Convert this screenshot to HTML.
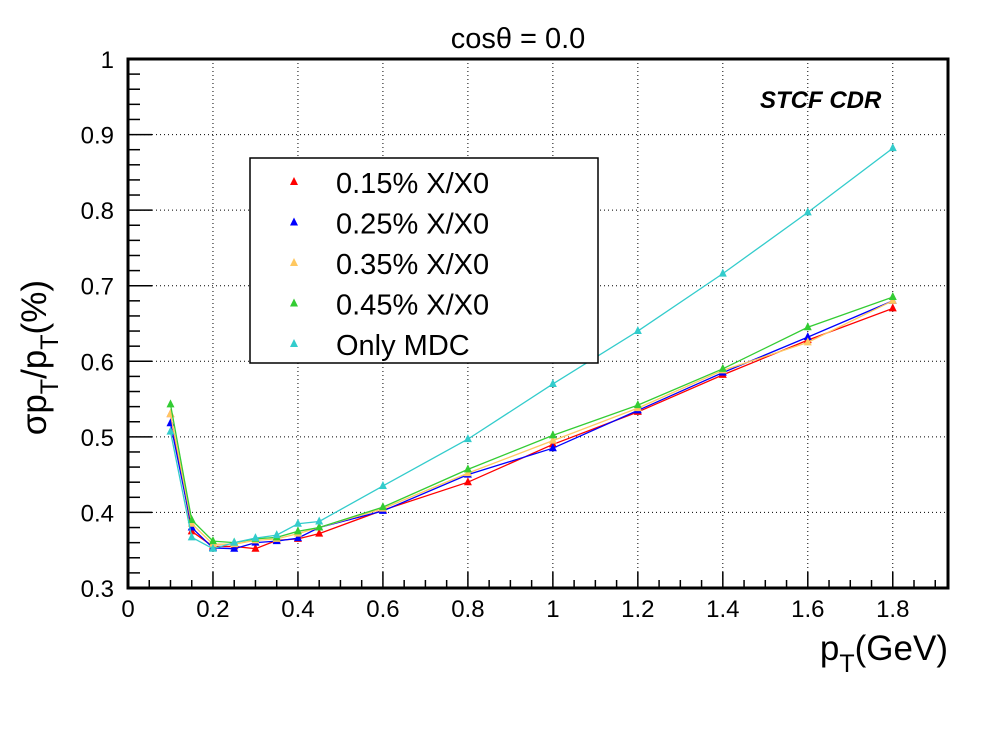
<!DOCTYPE html>
<html><head><meta charset="utf-8"><style>
body{margin:0;background:#fff;}
svg text{font-family:"Liberation Sans",sans-serif;}
</style></head><body>
<svg id="c" width="998" height="726" xmlns="http://www.w3.org/2000/svg"></svg>
<script>
const xVals=[0.1,0.15,0.2,0.25,0.3,0.35,0.4,0.45,0.6,0.8,1.0,1.2,1.4,1.6,1.8];
const seriesNames=["0.15% X/X0","0.25% X/X0","0.35% X/X0","0.45% X/X0","Only MDC"];
const seriesColors=["#ff0000","#0000ff","#ffc860","#33cc33","#33cccc"];
const s015=[0.53,0.375,0.355,0.355,0.352,0.363,0.365,0.372,0.403,0.44,0.49,0.533,0.582,0.628,0.67];
const s025=[0.518,0.38,0.353,0.352,0.36,0.362,0.366,0.38,0.402,0.45,0.485,0.535,0.585,0.632,0.68];
const s035=[0.53,0.385,0.358,0.358,0.363,0.365,0.372,0.38,0.405,0.452,0.495,0.538,0.588,0.625,0.68];
const s045=[0.543,0.39,0.362,0.36,0.365,0.367,0.375,0.38,0.407,0.457,0.502,0.542,0.59,0.645,0.685];
const sMDC=[0.507,0.367,0.352,0.36,0.366,0.37,0.385,0.388,0.435,0.497,0.57,0.64,0.716,0.797,0.882];
const xTicks=["0","0.2","0.4","0.6","0.8","1","1.2","1.4","1.6","1.8"];
const yTicks=["0.3","0.4","0.5","0.6","0.7","0.8","0.9","1"];
const allSeries=[s015,s025,s035,s045,sMDC];

const L=128,R=948,T=59,B=588,XMAX=1.93;
const X=v=>L+v/XMAX*(R-L);
const Y=v=>B-(v-0.3)/0.7*(B-T);
const svg=document.getElementById('c');
const NS="http://www.w3.org/2000/svg";
function mk(tag,attrs,parent){const e=document.createElementNS(NS,tag);for(const k in attrs)e.setAttribute(k,attrs[k]);(parent||svg).appendChild(e);return e;}
xTicks.forEach(t=>{const v=+t;if(v>0){const g=mk('line',{x1:X(v),x2:X(v),y1:T,y2:B,stroke:'#000','stroke-width':1,'stroke-dasharray':'1,3'});

}});
yTicks.forEach(t=>{const v=+t;if(v>0.3&&v<1){const g=mk('line',{x1:L,x2:R,y1:Y(v),y2:Y(v),stroke:'#000','stroke-width':1,'stroke-dasharray':'1,3'});

}});
const fr=mk('rect',{x:L,y:T,width:R-L,height:B-T,fill:'none',stroke:'#000','stroke-width':3});


for(let i=0;i*0.05<=XMAX;i++){const v=i*0.05;const major=i%4==0;mk('line',{x1:X(v),x2:X(v),y1:B,y2:B-(major?16:8),stroke:'#000','stroke-width':1.5});}
xTicks.forEach(t=>{const e=mk('text',{x:X(+t),y:B+29,'font-size':24,'text-anchor':'middle'});e.textContent=t;

});
for(let i=0;i<=35;i++){const v=0.3+i*0.02;const major=i%5==0;mk('line',{x1:L,x2:L+(major?24:12),y1:Y(v),y2:Y(v),stroke:'#000','stroke-width':1.5});}
yTicks.forEach(t=>{const e=mk('text',{x:L-14,y:Y(+t)+9,'font-size':24,'text-anchor':'end'});e.textContent=t;

});
allSeries.forEach((s,si)=>{
 const pts=s.map((v,i)=>X(xVals[i])+','+Y(v)).join(' ');
 const pl=mk('polyline',{points:pts,fill:'none',stroke:seriesColors[si],'stroke-width':1.3});
 
 
 s.forEach((v,i)=>{const x=X(xVals[i]),y=Y(v);
  const m=mk('polygon',{points:`${x-4},${y+3} ${x+4},${y+3} ${x},${y-5}`,fill:seriesColors[si]});
  
  });
});
const lg=mk('g',{});


mk('rect',{x:250,y:158,width:348,height:205,fill:'#fff',stroke:'#000','stroke-width':1.5},lg);
seriesNames.forEach((n,i)=>{const y=182+i*40.5;
 mk('polygon',{points:`${290},${y+3} ${298},${y+3} ${294},${y-5}`,fill:seriesColors[i]},lg);
 const t=mk('text',{x:336,y:y+11,'font-size':29},lg);t.textContent=n;
 
 });
const tt=mk('text',{x:518,y:48,'font-size':29,'text-anchor':'middle'});tt.textContent='cosθ = 0.0';

const st=mk('text',{x:760,y:108,'font-size':24,'font-weight':'bold','font-style':'italic'});st.textContent='STCF CDR';

const xl=mk('text',{x:948,y:660,'font-size':35,'text-anchor':'end'});
xl.innerHTML='p<tspan dy="12" font-size="25">T</tspan><tspan dy="-12">(GeV)</tspan>';

const yl=mk('text',{x:0,y:0,'font-size':35,'text-anchor':'end',transform:'translate(46,280) rotate(-90)'});
yl.innerHTML='σp<tspan dy="12" font-size="25">T</tspan><tspan dy="-12">/p</tspan><tspan dy="12" font-size="25">T</tspan><tspan dy="-12">(%)</tspan>';

</script>
</body></html>
